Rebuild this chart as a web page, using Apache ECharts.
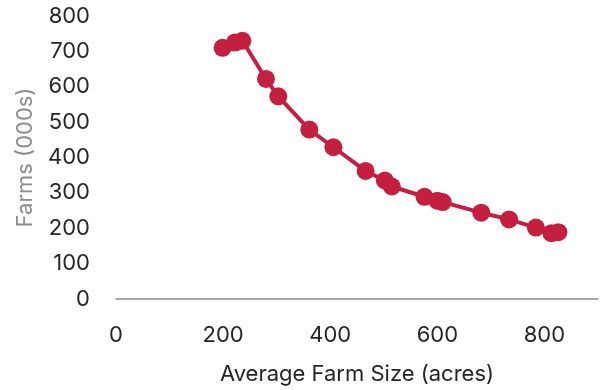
<!DOCTYPE html>
<html><head><meta charset="utf-8">
<script src="https://cdn.jsdelivr.net/npm/echarts@6/dist/echarts.min.js"></script>
<style>html,body{margin:0;padding:0;background:#fff}#c{width:606px;height:390px}</style>
</head><body><div id="c"></div>
<script>
var avgFarmSize = [199, 222, 236, 280, 303, 361, 406, 466, 502, 515, 576, 600, 610, 682, 734, 784, 813, 826];
var farmsThousands = [710, 725, 730, 622, 573, 479, 429, 362, 335, 318, 289, 278, 274, 244, 225, 202, 186, 189];
var xTicks = [0, 200, 400, 600, 800];
var yTicks = [0, 100, 200, 300, 400, 500, 600, 700, 800];

var pts = avgFarmSize.map(function(x, i){ return [x, farmsThousands[i]]; });
var font = 'Inter';
var fs = 22;
var chart = echarts.init(document.getElementById('c'), null, {renderer:'canvas'});
chart.setOption({
  animation: false,
  grid: {left: 116, right: 8, top: 16, bottom: 90},
  xAxis: {
    type: 'value', min: 0, max: 900, interval: 200,
    name: 'Average Farm Size (acres)', nameLocation: 'middle', nameGap: 64,
    nameTextStyle: {fontFamily: font, fontSize: fs, color: '#262626'},
    axisLine: {show: true, lineStyle: {color: '#8c8c8c', width: 1.5}},
    axisTick: {show: false}, splitLine: {show: false},
    axisLabel: {fontFamily: font, fontSize: fs, color: '#262626', margin: 25,
      formatter: function(v){ return xTicks.indexOf(v) >= 0 ? String(v) : ''; }}
  },
  yAxis: {
    type: 'value', min: 0, max: 800, interval: 100,
    name: 'Farms (000s)', nameLocation: 'middle', nameGap: 80,
    nameTextStyle: {fontFamily: font, fontSize: fs, color: '#8c8c8c'},
    axisLine: {show: false}, axisTick: {show: false}, splitLine: {show: false},
    axisLabel: {fontFamily: font, fontSize: fs, color: '#262626', margin: 26,
      formatter: function(v){ return yTicks.indexOf(v) >= 0 ? String(v) : ''; }}
  },
  series: [{
    type: 'line', data: pts, symbol: 'circle', symbolSize: 18,
    lineStyle: {color: '#C41F3E', width: 4},
    itemStyle: {color: '#C41F3E'}
  }]
});
</script></body></html>
